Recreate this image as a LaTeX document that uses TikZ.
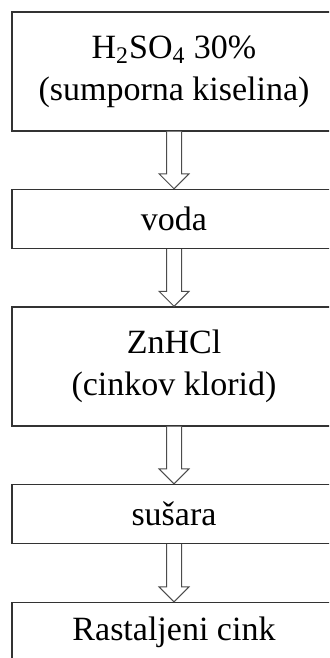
\documentclass[tikz,border=0pt]{standalone}
\usepackage{fontspec}
\setmainfont{Liberation Serif}
\usepackage{tkz-euclide}
\usetikzlibrary{calc}

\tikzset{
  stage/.style={draw=black!80, line width=0.7pt, minimum width=162pt,
    inner sep=0pt, align=center, font=\fontsize{17}{21}\selectfont},
  tallstage/.style={stage, minimum height=59.5pt},
  shortstage/.style={stage, minimum height=29.5pt},
  flowarrow/.style={draw=black!70, line width=0.5pt, fill=white}
}
\newcommand{\hollowarrow}[2]{%
  \draw[flowarrow] ([xshift=-3.75pt]#1.south)
    -- ([xshift=-3.75pt,yshift=7.5pt]#2.north)
    -- ([xshift=-7.5pt,yshift=7.5pt]#2.north)
    -- (#2.north)
    -- ([xshift=7.5pt,yshift=7.5pt]#2.north)
    -- ([xshift=3.75pt,yshift=7.5pt]#2.north)
    -- ([xshift=3.75pt]#1.south);}

\begin{document}
\begin{tikzpicture}[x=0.5pt,y=0.5pt]
    \clip (0,0) rectangle (329,658);
    \tkzDefPoint(174,586.5){S}
    \tkzDefPoint(174,439){V}
    \tkzDefPoint(174,291.5){Z}
    \tkzDefPoint(174,144){D}
    \tkzDefPoint(174,26){C}
    \node[tallstage] (kiselina) at (S) {H\textsubscript{2}SO\textsubscript{4} 30\%\\(sumporna kiselina)};
    \node[shortstage] (voda) at (V) {voda};
    \node[tallstage] (klorid) at (Z) {ZnHCl\\(cinkov klorid)};
    \node[shortstage] (susara) at (D) {sušara};
    \node[shortstage] (cink) at (C) {Rastaljeni cink};
    \hollowarrow{kiselina}{voda}
    \hollowarrow{voda}{klorid}
    \hollowarrow{klorid}{susara}
    \hollowarrow{susara}{cink}
  \end{tikzpicture}
\end{document}
